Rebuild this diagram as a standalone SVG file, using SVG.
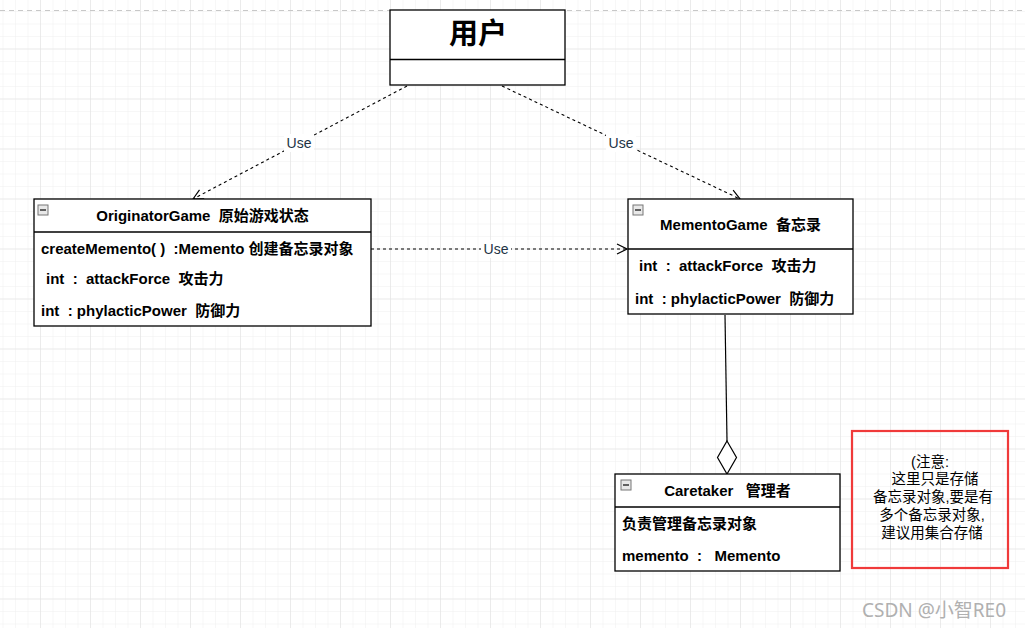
<svg xmlns="http://www.w3.org/2000/svg" width="1025" height="628" viewBox="0 0 1025 628">
<defs>
<pattern id="minor" patternUnits="userSpaceOnUse" x="2.5" y="11" width="12.5" height="12.5">
<path d="M0 0 V12.5 M0 0 H12.5" fill="none" stroke="#efefef" stroke-width="1"/>
</pattern>
<pattern id="major" patternUnits="userSpaceOnUse" x="40" y="48.5" width="50" height="50">
<path d="M0 0 V50 M0 0 H50" fill="none" stroke="#e0e0e0" stroke-width="1"/>
</pattern>
<marker id="open" viewBox="0 0 12 12" refX="11" refY="6" markerWidth="12" markerHeight="12" markerUnits="userSpaceOnUse" orient="auto">
<path d="M1 1 L11 6 L1 11" fill="none" stroke="#000" stroke-width="1.2"/>
</marker>
<g id="icon">
<rect x="0" y="0" width="10" height="10" fill="#e8e8e8" stroke="#777" stroke-width="1"/>
<line x1="2" y1="5" x2="8" y2="5" stroke="#333" stroke-width="1.5"/>
</g>
</defs>
<style>
.box{fill:#fff;stroke:#000;stroke-width:1.3}
.div{stroke:#000;stroke-width:1.3}
.t{font-family:"Liberation Sans","Noto Sans CJK SC",sans-serif;font-size:15px;font-weight:bold;fill:#000;white-space:pre}
.c{text-anchor:middle}
.dash{fill:none;stroke:#000;stroke-width:1.1;stroke-dasharray:3 3}
.lbl{font-family:"Liberation Sans","Noto Sans CJK SC",sans-serif;font-size:14px;fill:#223344;text-anchor:middle}
.note{font-family:"Liberation Sans","Noto Sans CJK SC",sans-serif;font-size:14.5px;fill:#000;text-anchor:middle}
</style>
<rect width="1025" height="628" fill="#fff"/>
<rect width="1025" height="628" fill="url(#minor)"/>
<rect width="1025" height="628" fill="url(#major)"/>
<line x1="0" y1="10.5" x2="1025" y2="10.5" stroke="#c8c8c8" stroke-width="1" stroke-dasharray="5 4"/>

<g id="connectors">
<line class="dash" x1="407" y1="86" x2="193" y2="199" marker-end="url(#open)"/>
<line class="dash" x1="502" y1="86" x2="740" y2="199" marker-end="url(#open)"/>
<line class="dash" x1="371" y1="249" x2="627" y2="249" marker-end="url(#open)"/>
<rect x="284" y="134" width="30" height="18" fill="#fff"/>
<text class="lbl" x="299" y="148">Use</text>
<rect x="606" y="134" width="30" height="18" fill="#fff"/>
<text class="lbl" x="621" y="148">Use</text>
<rect x="481" y="240" width="30" height="18" fill="#fff"/>
<text class="lbl" x="496" y="254">Use</text>
<line x1="725" y1="315" x2="727" y2="441" stroke="#000" stroke-width="1.2"/>
<path d="M727 441 L736.5 457.5 L727 474 L717.5 457.5 Z" fill="#fff" stroke="#000" stroke-width="1.2"/>
</g>

<g id="user">
<rect class="box" x="390" y="10" width="175" height="75"/>
<line class="div" x1="390" y1="59.5" x2="565" y2="59.5" stroke="#888"/>
<text class="t c" x="478" y="44" style="font-size:29px">用户</text>
</g>

<g id="originator">
<rect class="box" x="34" y="199" width="337" height="127"/>
<line class="div" x1="34" y1="232" x2="371" y2="232"/>
<use href="#icon" x="38" y="205"/>
<text class="t c" x="202.5" y="221">OriginatorGame  原始游戏状态</text>
<text class="t" x="41" y="254">createMemento( )  :Memento 创建备忘录对象</text>
<text class="t" x="46" y="284">int  :  attackForce  攻击力</text>
<text class="t" x="41" y="316">int  : phylacticPower  防御力</text>
</g>

<g id="memento">
<rect class="box" x="628" y="199" width="225" height="115"/>
<line class="div" x1="628" y1="249" x2="853" y2="249"/>
<use href="#icon" x="633" y="205"/>
<text class="t c" x="740.5" y="230">MementoGame  备忘录</text>
<text class="t" x="639" y="271">int  :  attackForce  攻击力</text>
<text class="t" x="635" y="304">int  : phylacticPower  防御力</text>
</g>

<g id="caretaker">
<rect class="box" x="615" y="474" width="225" height="97"/>
<line class="div" x1="615" y1="507" x2="840" y2="507"/>
<use href="#icon" x="621" y="480"/>
<text class="t c" x="727.5" y="496">Caretaker   管理者</text>
<text class="t" x="622" y="529">负责管理备忘录对象</text>
<text class="t" x="622" y="561">memento  :   Memento</text>
</g>

<g id="note">
<rect x="852" y="431" width="156" height="137" fill="none" stroke="#f03a3a" stroke-width="2.2"/>
<text class="note" x="930" y="467">(注意:</text>
<text class="note" x="935" y="484">这里只是存储</text>
<text class="note" x="933" y="502">备忘录对象,要是有</text>
<text class="note" x="932" y="520">多个备忘录对象,</text>
<text class="note" x="932" y="538">建议用集合存储</text>
</g>

<text x="862" y="617" style="font-family:'Noto Sans','Noto Sans CJK SC',sans-serif;font-size:19px;fill:#b0b0b0">CSDN @小智RE0</text>
</svg>
